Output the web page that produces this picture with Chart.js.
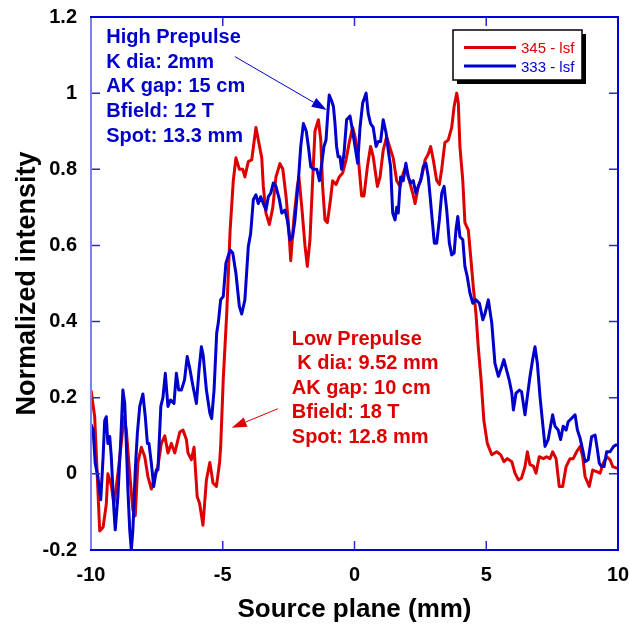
<!DOCTYPE html>
<html>
<head>
<meta charset="utf-8">
<script src="https://cdn.jsdelivr.net/npm/chart.js@4.4.1/dist/chart.umd.min.js"></script>
<style>
  html, body { margin: 0; padding: 0; background: #fff; }
</style>
</head>
<body>
<canvas id="graphCanvas" width="630" height="628"></canvas>
<script>
// 345 - lsf (low prepulse)
const redX = [
  -10.00, -9.86, -9.67, -9.54, -9.42, -9.36, -9.23, -9.13, -8.98, -8.85,
  -8.75, -8.66, -8.53, -8.41, -8.32, -8.22, -8.09, -7.96, -7.84, -7.71,
  -7.58, -7.46, -7.33, -7.20, -7.08, -6.95, -6.82, -6.63, -6.51, -6.38,
  -6.32, -6.19, -6.09, -5.97, -5.88, -5.75, -5.62, -5.49, -5.37, -5.24,
  -5.12, -5.08, -4.98, -4.85, -4.72, -4.60, -4.50, -4.37, -4.24, -4.16,
  -4.03, -3.90, -3.74, -3.65, -3.52, -3.46, -3.36, -3.23, -3.10, -2.98,
  -2.83, -2.72, -2.60, -2.51, -2.42, -2.30, -2.17, -2.11, -2.00, -1.88,
  -1.79, -1.69, -1.59, -1.50, -1.37, -1.28, -1.21, -1.12, -1.03, -0.93,
  -0.83, -0.70, -0.58, -0.45, -0.32, -0.20, -0.07, 0.02, 0.14, 0.27,
  0.36, 0.49, 0.61, 0.71, 0.87, 0.97, 1.09, 1.22, 1.35, 1.47,
  1.60, 1.73, 1.85, 1.95, 2.08, 2.21, 2.30, 2.42, 2.55, 2.68,
  2.80, 2.89, 2.99, 3.12, 3.22, 3.31, 3.43, 3.56, 3.69, 3.78,
  3.88, 3.94, 4.00, 4.11, 4.19, 4.32, 4.41, 4.51, 4.61, 4.70,
  4.80, 4.91, 5.04, 5.21, 5.40, 5.55, 5.67, 5.80, 5.97, 6.09,
  6.22, 6.34, 6.47, 6.56, 6.66, 6.79, 6.89, 7.01, 7.17, 7.29,
  7.42, 7.52, 7.65, 7.77, 7.90, 8.03, 8.18, 8.30, 8.43, 8.56,
  8.66, 8.75, 8.91, 9.04, 9.19, 9.32, 9.44, 9.57, 9.70, 9.80,
  9.95, 10.00
];
const redY = [
  0.22, 0.15, -0.15, -0.14, -0.08, 0.00, -0.03, -0.08, 0.00, 0.08,
  0.15, 0.115, 0.00, -0.095, -0.11, 0.03, 0.07, 0.045, -0.007, -0.04,
  -0.007, 0.02, 0.08, 0.10, 0.055, 0.08, 0.055, 0.11, 0.115, 0.09,
  0.055, 0.037, 0.07, -0.06, -0.077, -0.135, -0.016, 0.03, -0.024, -0.033,
  0.03, 0.07, 0.25, 0.42, 0.64, 0.77, 0.83, 0.80, 0.80, 0.78,
  0.82, 0.825, 0.91, 0.877, 0.83, 0.755, 0.685, 0.655, 0.70, 0.78,
  0.815, 0.80, 0.73, 0.66, 0.56, 0.67, 0.755, 0.78, 0.70, 0.60,
  0.545, 0.615, 0.77, 0.90, 0.93, 0.877, 0.755, 0.667, 0.66, 0.71,
  0.77, 0.76, 0.78, 0.79, 0.825, 0.87, 0.91, 0.886, 0.833, 0.73,
  0.73, 0.807, 0.86, 0.833, 0.755, 0.78, 0.85, 0.886, 0.855, 0.83,
  0.77, 0.755, 0.79, 0.807, 0.77, 0.737, 0.71, 0.755, 0.78, 0.825,
  0.84, 0.86, 0.825, 0.77, 0.76, 0.80, 0.87, 0.877, 0.91, 0.965,
  1.00, 0.974, 0.86, 0.77, 0.66, 0.64, 0.57, 0.49, 0.42, 0.33,
  0.25, 0.14, 0.08, 0.05, 0.058, 0.05, 0.032, 0.04, 0.032, 0.002,
  -0.016, -0.011, 0.019, 0.058, 0.024, 0.02, 0.002, 0.045, 0.04, 0.045,
  0.04, 0.058, 0.04, -0.033, -0.033, 0.019, 0.04, 0.04, 0.058, 0.072,
  0.045, -0.007, -0.033, 0.01, 0.006, 0.002, 0.028, 0.045, 0.037, 0.019,
  0.015, 0.015
];

// 333 - lsf (high prepulse)
const blueX = [
  -10.00, -9.92, -9.84, -9.74, -9.63, -9.54, -9.48, -9.42, -9.36, -9.29,
  -9.23, -9.13, -9.08, -8.98, -8.87, -8.79, -8.72, -8.66, -8.60, -8.53,
  -8.47, -8.41, -8.32, -8.24, -8.15, -8.03, -7.94, -7.86, -7.80, -7.71,
  -7.62, -7.52, -7.46, -7.35, -7.27, -7.18, -7.08, -6.98, -6.85, -6.76,
  -6.67, -6.57, -6.45, -6.35, -6.26, -6.13, -6.00, -5.90, -5.81, -5.74,
  -5.62, -5.49, -5.42, -5.33, -5.23, -5.17, -5.08, -4.98, -4.88, -4.72,
  -4.62, -4.50, -4.37, -4.28, -4.16, -4.03, -3.94, -3.84, -3.74, -3.65,
  -3.56, -3.46, -3.36, -3.27, -3.18, -3.08, -2.98, -2.85, -2.76, -2.64,
  -2.55, -2.45, -2.35, -2.26, -2.13, -2.04, -1.94, -1.83, -1.75, -1.66,
  -1.56, -1.43, -1.33, -1.24, -1.16, -1.08, -1.02, -0.96, -0.87, -0.80,
  -0.74, -0.68, -0.62, -0.55, -0.49, -0.40, -0.30, -0.17, -0.07, 0.02,
  0.12, 0.21, 0.31, 0.44, 0.52, 0.61, 0.71, 0.82, 0.90, 0.99,
  1.09, 1.20, 1.28, 1.37, 1.45, 1.54, 1.60, 1.66, 1.75, 1.85,
  1.95, 2.04, 2.13, 2.23, 2.33, 2.42, 2.51, 2.61, 2.71, 2.80,
  2.87, 2.95, 3.03, 3.12, 3.22, 3.31, 3.40, 3.50, 3.60, 3.69,
  3.78, 3.85, 3.92, 4.00, 4.11, 4.19, 4.28, 4.38, 4.49, 4.61,
  4.74, 4.87, 4.95, 5.08, 5.21, 5.33, 5.46, 5.58, 5.67, 5.77,
  5.87, 5.97, 6.03, 6.13, 6.26, 6.34, 6.47, 6.56, 6.66, 6.76,
  6.85, 6.94, 7.04, 7.14, 7.23, 7.35, 7.44, 7.52, 7.61, 7.73,
  7.82, 7.92, 8.03, 8.11, 8.24, 8.37, 8.46, 8.56, 8.66, 8.75,
  8.87, 9.00, 9.13, 9.22, 9.29, 9.38, 9.47, 9.57, 9.70, 9.83,
  9.93, 10.00
];
const blueY = [
  0.13, 0.115, 0.028, -0.007, -0.068, 0.045, 0.14, 0.15, 0.08, 0.098,
  0.045, -0.095, -0.147, -0.06, 0.09, 0.22, 0.185, 0.08, -0.042, -0.147,
  -0.20, -0.147, 0.01, 0.107, 0.177, 0.21, 0.15, 0.08, 0.08, 0.028,
  -0.033, 0.01, 0.01, 0.177, 0.20, 0.264, 0.177, 0.194, 0.185, 0.264,
  0.22, 0.22, 0.247, 0.308, 0.28, 0.23, 0.185, 0.273, 0.334, 0.31,
  0.22, 0.16, 0.145, 0.22, 0.37, 0.396, 0.457, 0.466, 0.553, 0.588,
  0.58, 0.527, 0.44, 0.42, 0.457, 0.597, 0.632, 0.72, 0.733, 0.71,
  0.728, 0.71, 0.693, 0.728, 0.737, 0.764, 0.755, 0.72, 0.685, 0.693,
  0.667, 0.615, 0.623, 0.667, 0.77, 0.86, 0.92, 0.90, 0.86, 0.807,
  0.80, 0.80, 0.77, 0.816, 0.86, 0.877, 0.94, 0.995, 0.98, 0.965,
  0.92, 0.86, 0.833, 0.833, 0.80, 0.84, 0.93, 0.94, 0.90, 0.86,
  0.816, 0.91, 0.974, 1.00, 0.947, 0.92, 0.91, 0.86, 0.873, 0.873,
  0.93, 0.895, 0.85, 0.807, 0.685, 0.667, 0.70, 0.685, 0.78, 0.77,
  0.816, 0.78, 0.764, 0.77, 0.737, 0.755, 0.77, 0.807, 0.816, 0.78,
  0.728, 0.667, 0.606, 0.606, 0.667, 0.737, 0.755, 0.693, 0.606, 0.575,
  0.58, 0.64, 0.676, 0.623, 0.615, 0.545, 0.518, 0.475, 0.448, 0.457,
  0.448, 0.405, 0.42, 0.457, 0.396, 0.29, 0.256, 0.28, 0.30, 0.273,
  0.247, 0.212, 0.168, 0.212, 0.22, 0.216, 0.155, 0.203, 0.256, 0.30,
  0.334, 0.29, 0.203, 0.133, 0.072, 0.09, 0.125, 0.155, 0.125, 0.115,
  0.09, 0.125, 0.115, 0.137, 0.146, 0.155, 0.115, 0.094, 0.063, 0.032,
  0.037, 0.098, 0.102, 0.063, 0.028, 0.019, 0.019, 0.058, 0.058, 0.072,
  0.076, 0.076
];

const xTicks = [-10, -5, 0, 5, 10];
const yTicks = [-0.2, 0, 0.2, 0.4, 0.6, 0.8, 1, 1.2];
const seriesNames = ['345 - lsf', '333 - lsf'];
const seriesColors = ['#dd0000', '#0000cc'];
const highNotes = ['High Prepulse', 'K dia: 2mm', 'AK gap: 15 cm', 'Bfield: 12 T', 'Spot: 13.3 mm'];
const lowNotes = ['Low Prepulse', ' K dia: 9.52 mm', 'AK gap: 10 cm', 'Bfield: 18 T', 'Spot: 12.8 mm'];

const FONT = "'Liberation Sans', Arial, Helvetica, sans-serif";
Chart.defaults.font.family = FONT;

function toPoints(xs, ys) {
    return xs.map((x, i) => ({x: x, y: ys[i]}));
}

function arrow(ctx, x1, y1, x2, y2, color) {
    const ang = Math.atan2(y2 - y1, x2 - x1);
    const len = 15, half = 5;
    const bx = x2 - len * Math.cos(ang), by = y2 - len * Math.sin(ang);
    ctx.strokeStyle = color;
    ctx.fillStyle = color;
    ctx.lineWidth = 1;
    ctx.beginPath();
    ctx.moveTo(x1, y1);
    ctx.lineTo(bx, by);
    ctx.stroke();
    ctx.beginPath();
    ctx.moveTo(x2, y2);
    ctx.lineTo(bx + half * Math.sin(ang), by - half * Math.cos(ang));
    ctx.lineTo(bx - half * Math.sin(ang), by + half * Math.cos(ang));
    ctx.closePath();
    ctx.fill();
}

// box round the plot with inward tick marks
const framePlugin = {
    id: 'frame',
    afterDatasetsDraw(chart) {
        const {ctx, chartArea: a, scales: {x, y}} = chart;
        ctx.save();
        ctx.lineWidth = 1.5;
        ctx.strokeStyle = '#2a2ad0';
        yTicks.forEach(v => {
            const py = y.getPixelForValue(v);
            ctx.beginPath();
            ctx.moveTo(a.left, py); ctx.lineTo(a.left + 9, py);
            ctx.moveTo(a.right, py); ctx.lineTo(a.right - 9, py);
            ctx.stroke();
        });
        xTicks.forEach(v => {
            const px = x.getPixelForValue(v);
            ctx.beginPath();
            ctx.moveTo(px, a.top); ctx.lineTo(px, a.top + 9);
            ctx.moveTo(px, a.bottom); ctx.lineTo(px, a.bottom - 9);
            ctx.stroke();
        });
        ctx.lineWidth = 2;
        ctx.strokeStyle = '#8080ea';
        ctx.beginPath();
        ctx.moveTo(a.left, a.top); ctx.lineTo(a.left, a.bottom);
        ctx.stroke();
        ctx.strokeStyle = '#0000d8';
        ctx.beginPath();
        ctx.moveTo(a.left - 1, a.top); ctx.lineTo(a.right, a.top);
        ctx.lineTo(a.right, a.bottom); ctx.lineTo(a.left - 1, a.bottom);
        ctx.stroke();
        ctx.restore();
    }
};

// legend box and the two note blocks with arrows
const notesPlugin = {
    id: 'notes',
    afterDraw(chart) {
        const {ctx, chartArea: a, scales: {x, y}} = chart;
        ctx.save();

        // legend
        const lx = a.right - 165, ly = a.top + 13, lw = 129, lh = 50;
        ctx.fillStyle = '#000';
        ctx.fillRect(lx + 4, ly + 4, lw, lh);
        ctx.fillStyle = '#fff';
        ctx.fillRect(lx, ly, lw, lh);
        ctx.strokeStyle = '#000';
        ctx.lineWidth = 1.5;
        ctx.strokeRect(lx, ly, lw, lh);
        ctx.font = '15px ' + FONT;
        ctx.textBaseline = 'alphabetic';
        chart.data.datasets.forEach((ds, i) => {
            const rowY = ly + 17.5 + i * 18.5;
            ctx.strokeStyle = ds.borderColor;
            ctx.lineWidth = 3;
            ctx.beginPath();
            ctx.moveTo(lx + 11, rowY); ctx.lineTo(lx + 63, rowY);
            ctx.stroke();
            ctx.fillStyle = ds.borderColor;
            ctx.fillText(ds.label, lx + 68, rowY + 5.5);
        });

        // note blocks
        ctx.font = 'bold 20px ' + FONT;
        ctx.fillStyle = seriesColors[1];
        let tx = x.getPixelForValue(-9.42), ty = y.getPixelForValue(1.132);
        highNotes.forEach((t, i) => ctx.fillText(t, tx, ty + i * 24.7));
        ctx.fillStyle = seriesColors[0];
        tx = x.getPixelForValue(-2.38); ty = y.getPixelForValue(0.339);
        lowNotes.forEach((t, i) => ctx.fillText(t, tx, ty + i * 24.5));

        arrow(ctx, x.getPixelForValue(-4.54), y.getPixelForValue(1.096),
              x.getPixelForValue(-1.055), y.getPixelForValue(0.956), seriesColors[1]);
        arrow(ctx, x.getPixelForValue(-2.91), y.getPixelForValue(0.171),
              x.getPixelForValue(-4.66), y.getPixelForValue(0.121), seriesColors[0]);
        ctx.restore();
    }
};

new Chart(document.getElementById('graphCanvas'), {
    type: 'line',
    data: {
        datasets: [
            {
                label: seriesNames[0],
                data: toPoints(redX, redY),
                borderColor: seriesColors[0],
                borderWidth: 3,
                pointRadius: 0,
                tension: 0,
                borderJoinStyle: 'round',
                order: 2
            },
            {
                label: seriesNames[1],
                data: toPoints(blueX, blueY),
                borderColor: seriesColors[1],
                borderWidth: 3,
                pointRadius: 0,
                tension: 0,
                borderJoinStyle: 'round',
                order: 1
            }
        ]
    },
    options: {
        responsive: false,
        animation: false,
        devicePixelRatio: 1,
        layout: {padding: {top: 17, right: 12, left: 0, bottom: 0}},
        plugins: {legend: {display: false}, tooltip: {enabled: false}},
        scales: {
            x: {
                type: 'linear',
                min: -10,
                max: 10,
                afterBuildTicks: s => { s.ticks = xTicks.map(v => ({value: v})); },
                afterFit: s => { s.height = 78; s.paddingLeft = 0; s.paddingRight = 0; },
                grid: {display: false, drawTicks: false},
                border: {display: false},
                ticks: {
                    color: '#000',
                    font: {size: 20, weight: 'bold'},
                    padding: 13,
                    maxRotation: 0,
                    autoSkip: false,
                    callback: v => String(v)
                },
                title: {
                    display: true,
                    text: 'Source plane (mm)',
                    color: '#000',
                    font: {size: 26, weight: 'bold'},
                    padding: {top: 0, bottom: 3}
                }
            },
            y: {
                type: 'linear',
                min: -0.2,
                max: 1.2,
                afterBuildTicks: s => { s.ticks = yTicks.map(v => ({value: v})); },
                afterFit: s => { s.width = 91; s.paddingTop = 0; s.paddingBottom = 0; },
                grid: {display: false, drawTicks: false},
                border: {display: false},
                ticks: {
                    color: '#000',
                    font: {size: 20, weight: 'bold'},
                    padding: 14,
                    autoSkip: false,
                    callback: v => String(v)
                },
                title: {
                    display: true,
                    text: 'Normalized intensity',
                    color: '#000',
                    font: {size: 27, weight: 'bold'},
                    padding: {top: 11, bottom: 0}
                }
            }
        }
    },
    plugins: [framePlugin, notesPlugin]
});
</script>
</body>
</html>
